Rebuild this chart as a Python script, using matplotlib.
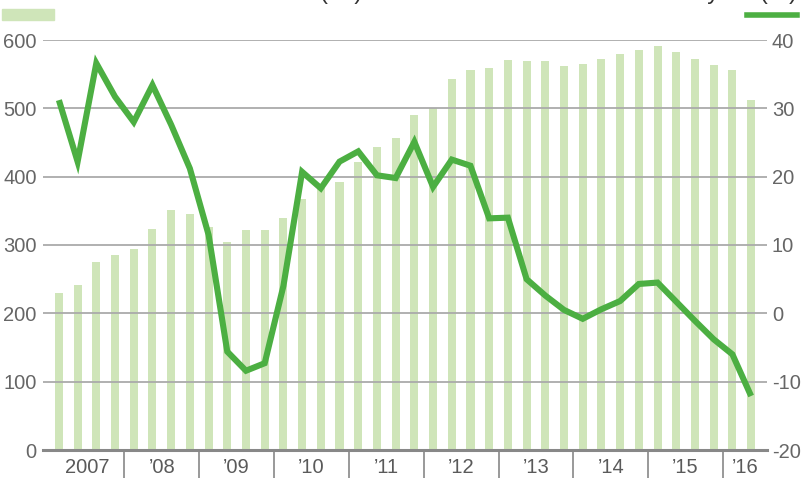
import numpy as np
import matplotlib
matplotlib.use('Agg')
import matplotlib.pyplot as plt
from matplotlib import rc

rc('font', family=['Liberation Sans Narrow', 'Liberation Sans', 'DejaVu Sans'])

# quarterly values, 2007 Q1 .. 2016 Q2
bars = [230, 242, 275, 286,
        294, 323, 351, 346,
        327, 305, 322, 322,
        340, 368, 383, 392,
        422, 444, 456, 490,
        501, 543, 556, 559,
        571, 569, 569, 562,
        565, 572, 580, 585,
        591, 582, 572, 563,
        556, 512]
yoy = [31.2, 22.2, 36.6, 31.7,
       28.0, 33.4, 27.6, 21.2,
       11.5, -5.6, -8.4, -7.3,
       4.0, 20.7, 18.3, 22.2,
       23.7, 20.2, 19.8, 25.1,
       18.5, 22.5, 21.6, 13.9,
       14.0, 5.0, 2.6, 0.5,
       -0.8, 0.6, 1.8, 4.3,
       4.5, 1.7, -1.1, -3.8,
       -6.0, -12.1]
years = ['2007', '\u201908', '\u201909', '\u201910', '\u201911',
         '\u201912', '\u201913', '\u201914', '\u201915', '\u201916']

bar_color = '#cfe5b9'
line_color = '#4caf42'
grid_color = '#aaaaaa'
text_color = '#666666'
fsize = 14.5

ind = np.arange(len(bars))

fig = plt.figure(figsize=(8.03, 4.78), dpi=100)
ax = fig.add_axes([43/803, 1 - 450/478, (767 - 43)/803, 410/478])
ax2 = ax.twinx()

ax.bar(ind, bars, 0.43, color=bar_color, zorder=1)
for y in range(100, 700, 100):
    ax.axhline(y, color=grid_color, lw=1.3, zorder=2)
ax.axhline(0, color='#888888', lw=2.2, zorder=3, clip_on=False)

ax2.plot(ind, yoy, color=line_color, lw=4.4, solid_joinstyle='miter',
         solid_capstyle='butt', clip_on=False, zorder=5)

xmin, xmax = -0.85, 37.85
ax.set_xlim(xmin, xmax)
ax.set_ylim(0, 600)
ax2.set_ylim(-20, 40)

for a in (ax, ax2):
    for s in a.spines.values():
        s.set_visible(False)

ax.set_yticks(range(0, 700, 100))
ax.tick_params(axis='y', length=0, pad=4.5, labelsize=fsize, labelcolor=text_color)
ax2.set_yticks(range(-20, 50, 10))
ax2.set_yticklabels([str(v) for v in range(-20, 50, 10)])
ax2.tick_params(axis='y', length=0, pad=3.5, labelsize=fsize, labelcolor=text_color)

# year labels centred on each year's bars, last one in its partial slot
centers = [1.5 + 4*i for i in range(9)] + [(35.5 + xmax) / 2]
ax.set_xticks(centers)
ax.set_xticklabels(years, fontweight='medium')
ax.tick_params(axis='x', length=0, pad=6, labelsize=fsize, labelcolor='#5a5a5a')

# year separators below the axis
trans = ax.get_xaxis_transform()
for x in np.arange(3.5, 36, 4):
    ax.plot([x, x], [0, -28/410], color='#888888', lw=1.2,
            transform=trans, clip_on=False)

# legend keys (titles are cut by the top edge, as in the source)
fig.patches.append(plt.Rectangle((2/803, 1 - 20/478), 52/803, 11/478,
                                 transform=fig.transFigure, color=bar_color))
fig.lines.append(plt.Line2D([747/803, 797/803], [1 - 15/478, 1 - 15/478],
                            transform=fig.transFigure, color=line_color, lw=4))
fig.text(362/803, 1 + 1/478, 'Balance (bn)', ha='right', va='baseline',
         fontsize=17, color='#333333')
fig.text(797/803, 1 + 1/478, 'Year on year (%)', ha='right', va='baseline',
         fontsize=17, color='#333333')

fig.savefig('out.png', dpi=100)
